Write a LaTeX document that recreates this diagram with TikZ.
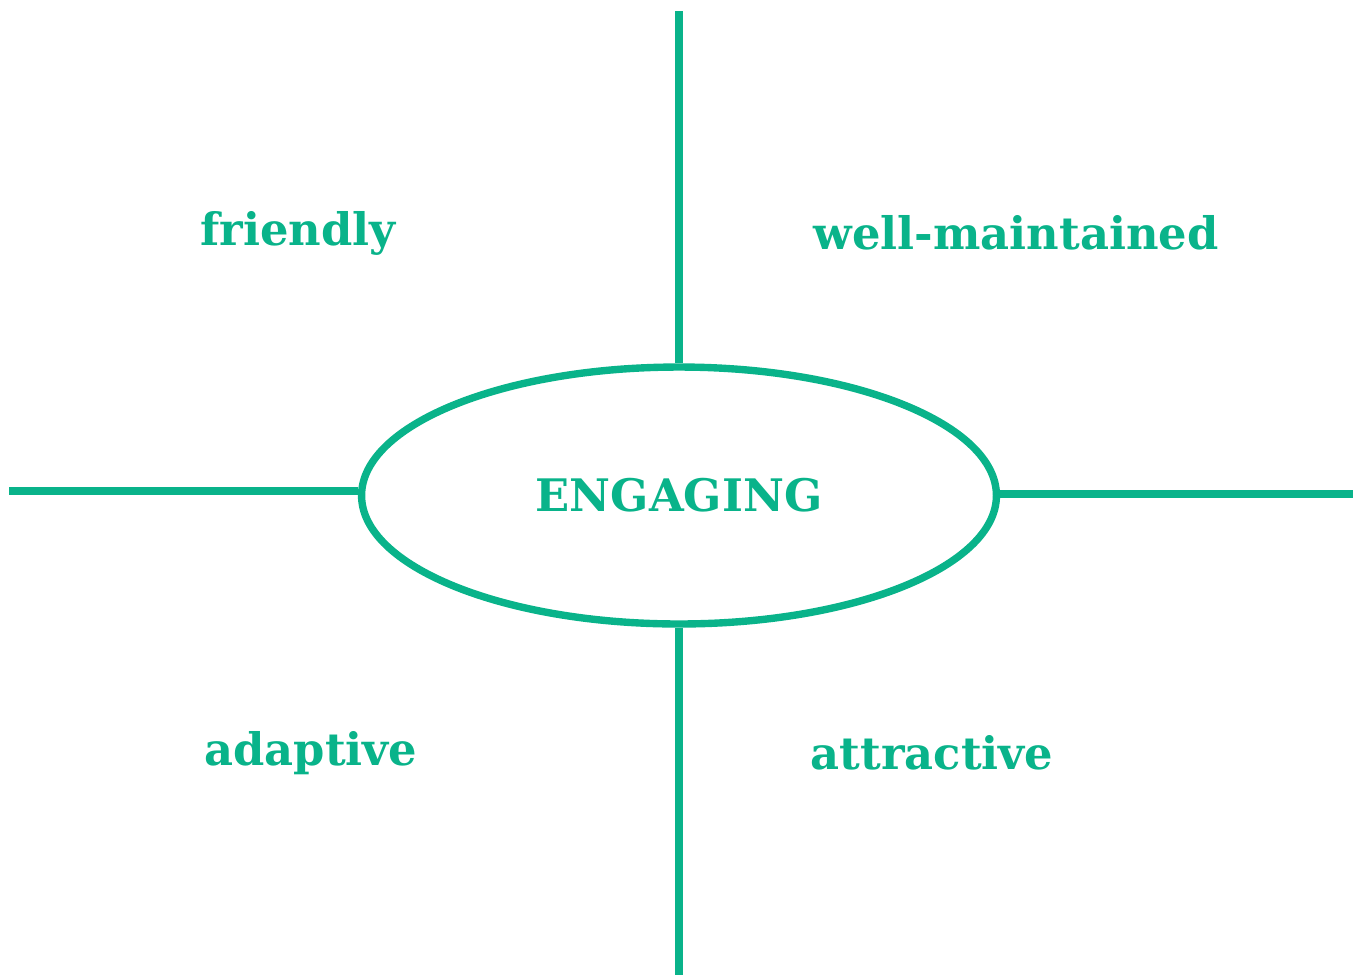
\documentclass[tikz,border=0pt]{standalone}
\usepackage{fontspec}
\setmainfont{DejaVu Serif}
\usetikzlibrary{shapes.geometric}
\definecolor{teal}{HTML}{09B38A}
\tikzset{
x=0.02cm, y=-0.02cm, % one unit is one pixel of the picture
spoke/.style={line width=4.2pt, draw=teal}, % thick green strokes
word/.style={text=teal, font=\fontsize{25.5}{28}\selectfont\bfseries}, % the four qualities
hub/.style={ellipse, draw=teal, line width=4.2pt, minimum width=12.7cm, minimum height=5.14cm, inner sep=0pt, text=teal, font=\fontsize{25.5}{28}\selectfont\bfseries}, % the centre
}

\begin{document}
\begin{tikzpicture}
    \useasboundingbox (0,0) rectangle (1359,975);
    \node[hub] (eng) at (679,495.5) {ENGAGING};
    \coordinate (top) at (679,11);
    \coordinate (bot) at (679,975);
    \coordinate (lft) at (9,491);
    \coordinate (rgt) at (1353,494);
    \draw[spoke] (top) -- (eng.north)
    (eng.south) -- (bot)
    (lft) -- (lft -| eng.west)
    (eng.east |- rgt) -- (rgt);
    \node[word] (fr) at (298,233) {friendly};
    \node[word] (wm) at (1016,233) {well-maintained};
    \node[word] (ad) at (311,753) {adaptive};
    \node[word] (at) at (932,753) {attractive};
  \end{tikzpicture}
\end{document}
